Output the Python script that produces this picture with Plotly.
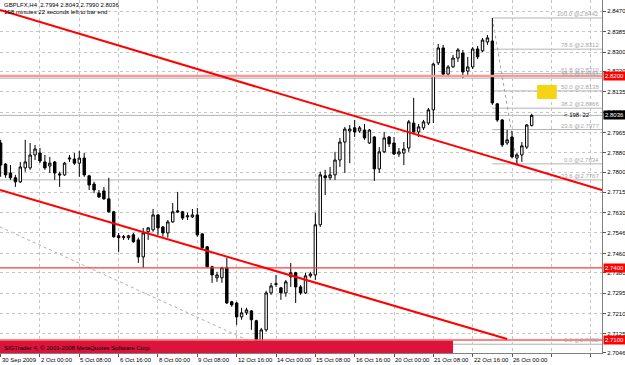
import plotly.graph_objects as go

# ---------------- data (GBP cross, H4) ----------------
opens = [2.7921, 2.7833, 2.7796, 2.7776, 2.7759, 2.7817, 2.7817, 2.7871, 2.7879, 2.7842,
         2.7825, 2.7842, 2.7792, 2.7788, 2.7854, 2.7854, 2.7837, 2.7858, 2.7784, 2.7750,
         2.7712, 2.7721, 2.7688, 2.7634, 2.7534, 2.7530, 2.7526, 2.7538, 2.7517, 2.7446,
         2.7551, 2.7559, 2.7621, 2.7571, 2.7546, 2.7592, 2.7638, 2.7634, 2.7613, 2.7613,
         2.7621, 2.7542, 2.7488, 2.7405, 2.7359, 2.7359, 2.7401, 2.7259, 2.7254, 2.7196,
         2.7213, 2.7221, 2.7180, 2.7092, 2.7142, 2.7296, 2.7334, 2.7317, 2.7296, 2.7363,
         2.7380, 2.7321, 2.7296, 2.7367, 2.7371, 2.7580, 2.7784, 2.7776, 2.7788, 2.7850,
         2.7925, 2.7971, 2.7984, 2.7971, 2.7975, 2.7921, 2.7946, 2.7813, 2.7884, 2.7946,
         2.7921, 2.7875, 2.7879, 2.7900, 2.8004, 2.7967, 2.7984, 2.8004, 2.8059, 2.8255,
         2.8317, 2.8208, 2.8238, 2.8275, 2.8296, 2.8221, 2.8238, 2.8313, 2.8305, 2.8342,
         2.8346, 2.8084, 2.8017, 2.7921, 2.7946, 2.7858, 2.7871, 2.7904, 2.7994]
highs = [2.7934, 2.7837, 2.7829, 2.7788, 2.7842, 2.7934, 2.7921, 2.7913, 2.7900, 2.7871,
         2.7863, 2.7846, 2.7801, 2.7842, 2.7871, 2.7879, 2.7888, 2.7879, 2.7788, 2.7759,
         2.7725, 2.7738, 2.7776, 2.7638, 2.7546, 2.7538, 2.7538, 2.7546, 2.7526, 2.7567,
         2.7571, 2.7646, 2.7625, 2.7575, 2.7600, 2.7671, 2.7717, 2.7638, 2.7630, 2.7646,
         2.7650, 2.7546, 2.7492, 2.7409, 2.7384, 2.7405, 2.7442, 2.7263, 2.7259, 2.7234,
         2.7234, 2.7225, 2.7184, 2.7150, 2.7305, 2.7338, 2.7371, 2.7321, 2.7350, 2.7421,
         2.7384, 2.7329, 2.7380, 2.7384, 2.7630, 2.7801, 2.7809, 2.7821, 2.7884, 2.7942,
         2.7988, 2.7996, 2.8017, 2.7992, 2.8000, 2.7979, 2.7950, 2.7904, 2.7967, 2.7950,
         2.7946, 2.7900, 2.7925, 2.8017, 2.8109, 2.8000, 2.8017, 2.8067, 2.8255, 2.8334,
         2.8330, 2.8246, 2.8288, 2.8317, 2.8309, 2.8280, 2.8321, 2.8325, 2.8359, 2.8371,
         2.8442, 2.8088, 2.8021, 2.7975, 2.7971, 2.7879, 2.7925, 2.8000, 2.8043]
lows = [2.7780, 2.7776, 2.7767, 2.7738, 2.7754, 2.7801, 2.7809, 2.7850, 2.7837, 2.7809,
        2.7796, 2.7767, 2.7738, 2.7784, 2.7842, 2.7829, 2.7780, 2.7780, 2.7725, 2.7712,
        2.7692, 2.7684, 2.7630, 2.7526, 2.7467, 2.7517, 2.7517, 2.7505, 2.7421, 2.7401,
        2.7517, 2.7551, 2.7538, 2.7530, 2.7526, 2.7588, 2.7630, 2.7600, 2.7600, 2.7608,
        2.7530, 2.7479, 2.7401, 2.7338, 2.7342, 2.7338, 2.7250, 2.7238, 2.7163, 2.7184,
        2.7204, 2.7142, 2.7082, 2.7088, 2.7134, 2.7288, 2.7321, 2.7267, 2.7280, 2.7321,
        2.7254, 2.7288, 2.7292, 2.7359, 2.7350, 2.7571, 2.7704, 2.7767, 2.7767, 2.7821,
        2.7796, 2.7837, 2.7946, 2.7963, 2.7934, 2.7917, 2.7763, 2.7796, 2.7879, 2.7904,
        2.7871, 2.7863, 2.7829, 2.7884, 2.7963, 2.7946, 2.7975, 2.7996, 2.8004, 2.8246,
        2.8204, 2.8196, 2.8234, 2.8259, 2.8192, 2.8196, 2.8229, 2.8271, 2.8300, 2.8330,
        2.8080, 2.8009, 2.7904, 2.7913, 2.7858, 2.7834, 2.7842, 2.7896, 2.7990]
closes = [2.7829, 2.7788, 2.7776, 2.7759, 2.7821, 2.7842, 2.7871, 2.7896, 2.7846, 2.7817,
          2.7837, 2.7796, 2.7788, 2.7837, 2.7858, 2.7837, 2.7858, 2.7788, 2.7746, 2.7725,
          2.7696, 2.7688, 2.7634, 2.7530, 2.7526, 2.7528, 2.7534, 2.7509, 2.7446, 2.7546,
          2.7567, 2.7621, 2.7567, 2.7546, 2.7592, 2.7634, 2.7634, 2.7608, 2.7617, 2.7621,
          2.7538, 2.7484, 2.7405, 2.7371, 2.7371, 2.7401, 2.7254, 2.7246, 2.7196, 2.7213,
          2.7225, 2.7184, 2.7100, 2.7142, 2.7296, 2.7325, 2.7332, 2.7296, 2.7342, 2.7380,
          2.7321, 2.7296, 2.7367, 2.7375, 2.7580, 2.7788, 2.7776, 2.7788, 2.7850, 2.7925,
          2.7979, 2.7979, 2.7967, 2.7984, 2.7942, 2.7975, 2.7813, 2.7884, 2.7942, 2.7917,
          2.7875, 2.7884, 2.7896, 2.8009, 2.7967, 2.7988, 2.8009, 2.8059, 2.8250, 2.8317,
          2.8208, 2.8238, 2.8275, 2.8309, 2.8217, 2.8238, 2.8313, 2.8280, 2.8350, 2.8359,
          2.8088, 2.8017, 2.7913, 2.7934, 2.7863, 2.7871, 2.7909, 2.7996, 2.8036]
bar_index = list(range(len(opens)))

time_tick_index = [0, 8, 16, 24, 32, 40, 48, 56, 64, 72, 80, 88, 96, 104]
time_tick_labels = ["30 Sep 2009", "2 Oct 00:00", "5 Oct 08:00", "6 Oct 16:00", "8 Oct 00:00",
                    "9 Oct 08:00", "12 Oct 16:00", "14 Oct 00:00", "15 Oct 08:00", "16 Oct 16:00",
                    "20 Oct 00:00", "21 Oct 08:00", "22 Oct 16:00", "26 Oct 00:00"]
grid_index = time_tick_index + [112, 120]

price_ticks = [2.8470, 2.8385, 2.8300, 2.8220, 2.8135, 2.8050, 2.7965, 2.7880, 2.7800,
               2.7715, 2.7630, 2.7546, 2.7460, 2.7380, 2.7295, 2.7210, 2.7125, 2.7046]
price_tick_labels = ["2.8470", "2.8385", "2.8300", "2.8220", "2.8135", "2.8050", "2.7965",
                     "2.7880", "2.7800", "2.7715", "2.7630", "2.7546", "2.7460", "2.7380",
                     "2.7295", "2.7210", "2.7125", "2.7046"]

x_range = [-0.13, 122.3]
y_range = [2.70455, 2.8517]

# horizontal price levels
level_prices = [2.8200, 2.7400, 2.7100]
level_labels = ["2.8200", "2.7400", "2.7100"]
bid_price = 2.8036
bid_label = "2.8036"

# trend channel
upper_x = [-0.13, 122.3]
upper_y = [2.8475, 2.7725]
lower_x = [-0.13, 103.0]
lower_y = [2.7725, 2.7104]

# Fibonacci (recent swing)
fib_start = 100
fib_x = [100, 105]
fib_y = [2.8442, 2.7834]
fib_prices = [2.8442, 2.8312, 2.8210, 2.8138, 2.8066, 2.7977, 2.7834]
fib_labels = ["100.0 @2.8442", "78.6 @2.8312", "61.8 @2.8210", "50.0 @2.8138",
              "38.2 @2.8066", "23.6 @2.7977", "0.0 @2.7834"]
# Fibonacci (older swing)
old_fib_x = [-0.13, 52]
old_fib_y = [2.7571, 2.7082]
old_fib_prices = [2.8191, 2.7767, 2.7082]
old_fib_labels = ["38.2 @2.8191", "23.6 @2.7767", "0.0 @2.7082"]

# rectangles
yellow_x = [109.1, 113.1]
yellow_y = [2.8104, 2.8163]
band_x = [-1.0, 92.0]
band_y = [2.7000, 2.7098]

header_line1 = "GBPLFX,H4  2.7994 2.8043 2.7990 2.8036"
header_line2 = "198 minutes 22 seconds left to bar end"
timer_text = "< 198: 22"
copyright_text = "SIGTrader 4, \u00a9 2001-2008 MetaQuotes Software Corp."

FONT = "Liberation Sans"
GRID = "#c4c4c4"
FIBC = "#b4b4b4"

fig = go.Figure()
fig.add_trace(go.Candlestick(
    x=bar_index, open=opens, high=highs, low=lows, close=closes,
    increasing=dict(line=dict(color="black", width=1), fillcolor="white"),
    decreasing=dict(line=dict(color="black", width=1), fillcolor="black"),
    whiskerwidth=0, hoverinfo="skip", showlegend=False))

shapes = []
# gray full-width lines (bid, old fib levels)
for p in [bid_price] + old_fib_prices:
    shapes.append(dict(type="line", xref="x", yref="y", x0=x_range[0], x1=x_range[1],
                       y0=p, y1=p, line=dict(color=FIBC, width=1), layer="below"))
# new fib levels
for p in fib_prices:
    shapes.append(dict(type="line", xref="x", yref="y", x0=fib_start, x1=x_range[1],
                       y0=p, y1=p, line=dict(color=FIBC, width=1), layer="below"))
# fib trendlines (dotted)
shapes.append(dict(type="line", xref="x", yref="y", x0=fib_x[0], x1=fib_x[1], y0=fib_y[0], y1=fib_y[1],
                   line=dict(color="#a0a0a0", width=1, dash="dot"), layer="below"))
shapes.append(dict(type="line", xref="x", yref="y", x0=old_fib_x[0], x1=old_fib_x[1],
                   y0=old_fib_y[0], y1=old_fib_y[1],
                   line=dict(color="#b0b0b0", width=1, dash="dot"), layer="below"))
# yellow box
shapes.append(dict(type="rect", xref="x", yref="y", x0=yellow_x[0], x1=yellow_x[1],
                   y0=yellow_y[0], y1=yellow_y[1], fillcolor="#F5D317", line=dict(width=0)))
# bottom crimson band
shapes.append(dict(type="rect", xref="x", yref="y", x0=band_x[0], x1=band_x[1],
                   y0=band_y[0], y1=band_y[1], fillcolor="#DC143C", line=dict(width=0)))
# horizontal price levels
level_styles = [("#F59A9A", 2.6), ("#FF3A3A", 1.3), ("#FF5A5A", 1.6)]
for p, (c, w) in zip(level_prices, level_styles):
    shapes.append(dict(type="line", xref="x", yref="y", x0=x_range[0], x1=x_range[1],
                       y0=p, y1=p, line=dict(color=c, width=w)))
# channel lines
shapes.append(dict(type="line", xref="x", yref="y", x0=upper_x[0], x1=upper_x[1],
                   y0=upper_y[0], y1=upper_y[1], line=dict(color="#FF0000", width=2)))
shapes.append(dict(type="line", xref="x", yref="y", x0=lower_x[0], x1=lower_x[1],
                   y0=lower_y[0], y1=lower_y[1], line=dict(color="#FF0000", width=2)))

ann = []
for i, t in zip(time_tick_index, time_tick_labels):
    ann.append(dict(x=i, y=0, xref="x", yref="paper", text=t, showarrow=False,
                    xanchor="left", yanchor="top", xshift=-1, yshift=-2,
                    font=dict(family=FONT, size=6, color="black")))
for p, t in zip(fib_prices, fib_labels):
    ann.append(dict(x=0.998, y=p, xref="paper", yref="y", text=t, showarrow=False,
                    xanchor="right", yanchor="bottom", yshift=-1,
                    font=dict(family=FONT, size=6, color="#a8a8a8")))
for p, t in zip(old_fib_prices, old_fib_labels):
    ann.append(dict(x=0.998, y=p, xref="paper", yref="y", text=t, showarrow=False,
                    xanchor="right", yanchor="bottom", yshift=-1,
                    font=dict(family=FONT, size=6, color="#a8a8a8")))
for p, t in zip(level_prices, level_labels):
    ann.append(dict(x=1, y=p, xref="paper", yref="y", text=t, showarrow=False,
                    xanchor="left", yanchor="middle", xshift=1, bgcolor="#FF0000",
                    borderpad=1, font=dict(family=FONT, size=6, color="white")))
ann.append(dict(x=1, y=bid_price, xref="paper", yref="y", text=bid_label, showarrow=False,
                xanchor="left", yanchor="middle", xshift=1, bgcolor="black",
                borderpad=1, font=dict(family=FONT, size=6, color="white")))
ann.append(dict(x=0.958, y=bid_price, xref="paper", yref="y", text=timer_text, showarrow=False,
                xanchor="center", yanchor="middle",
                font=dict(family=FONT, size=6, color="black")))
ann.append(dict(x=0, y=1, xref="paper", yref="paper", text=header_line1, showarrow=False,
                xanchor="left", yanchor="top", xshift=2, yshift=0,
                font=dict(family=FONT, size=6, color="black")))
ann.append(dict(x=0, y=1, xref="paper", yref="paper", text=header_line2, showarrow=False,
                xanchor="left", yanchor="top", xshift=2, yshift=-7,
                font=dict(family=FONT, size=6, color="black")))
ann.append(dict(x=0, y=0, xref="paper", yref="paper", text=copyright_text, showarrow=False,
                xanchor="left", yanchor="bottom", xshift=2, yshift=0,
                font=dict(family=FONT, size=6, color="black")))

fig.update_layout(
    width=625, height=365,
    margin=dict(l=0, r=23, t=0, b=12),
    paper_bgcolor="white", plot_bgcolor="white",
    showlegend=False, shapes=shapes, annotations=ann,
    xaxis=dict(range=x_range, tickvals=grid_index, showticklabels=False,
               ticks="outside", ticklen=3, tickcolor="#555",
               showgrid=True, gridcolor=GRID, griddash="dot", gridwidth=1,
               zeroline=False, showline=True, linecolor="#808080", linewidth=1,
               rangeslider=dict(visible=False), fixedrange=True),
    yaxis=dict(range=y_range, side="right", tickvals=price_ticks, ticktext=price_tick_labels,
               ticks="outside", ticklen=3, tickcolor="#555",
               tickfont=dict(family=FONT, size=6, color="black"),
               showgrid=True, gridcolor=GRID, griddash="dot", gridwidth=1,
               zeroline=False, showline=True, linecolor="#808080", linewidth=1,
               fixedrange=True),
)

fig.write_html("out.html")
